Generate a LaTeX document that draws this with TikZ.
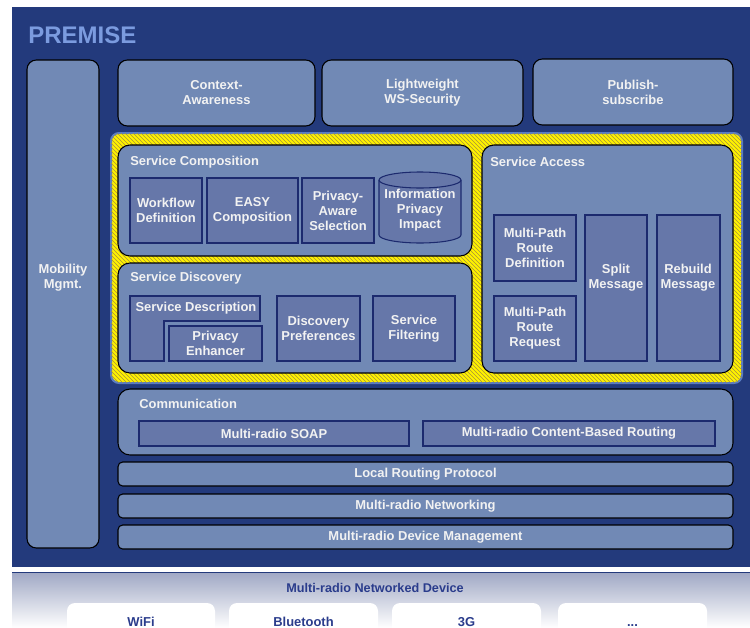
\documentclass[tikz,border=0pt]{standalone}
\usepackage{fontspec}
\setmainfont{Liberation Sans}
\usetikzlibrary{patterns}
\definecolor{premisebg}{HTML}{233A7C}
\definecolor{layerfill}{HTML}{7189B5}
\definecolor{modfill}{HTML}{6677A9}
\definecolor{modline}{HTML}{1C2A6E}
\definecolor{titleblue}{HTML}{7B9BDF}
\definecolor{hatchline}{HTML}{A8923A}
\definecolor{zoneline}{HTML}{5A7CC4}
\definecolor{devtext}{HTML}{2A3C8C}
\definecolor{devtop}{HTML}{A2AAC6}
\definecolor{labelwhite}{HTML}{F2F2F2}
\tikzset{
    x=0.75pt,
    y=-0.75pt,
    font=\fontsize{9.7}{11.25}\selectfont\bfseries,
    layer/.style={
        draw=black,
        line width=0.8pt,
        fill=layerfill,
        rounded corners=7pt,
        inner sep=0pt,
        text=labelwhite,
        align=center
    },
    group/.style={
        layer,
        rounded corners=9pt
    },
    bar/.style={
        layer,
        rounded corners=3.5pt
    },
    module/.style={
        draw=modline,
        line width=0.8pt,
        fill=modfill,
        inner sep=0pt,
        text=labelwhite,
        align=center
    },
    caption/.style={
        inner sep=0pt,
        text=labelwhite,
        align=center
    },
    grouptitle/.style={
        caption,
        anchor=west
    },
    hatchzone/.style={
        fill=yellow,
        draw=zoneline,
        line width=1.5pt,
        rounded corners=6pt,
        inner sep=0pt,
        postaction={pattern=north west lines, pattern color=hatchline}
    },
    radio/.style={
        fill=white,
        rounded corners=6pt,
        inner sep=0pt
    },
    radiotext/.style={
        text=devtext,
        anchor=base,
        inner sep=0pt
    }
}
% box from corner (x1,y1) to (x2,y2), in pixel units
\newcommand{\pbox}[7]{
    \pgfmathsetmacro{\pboxw}{0.75*(#5-#3)}
    \pgfmathsetmacro{\pboxh}{0.75*(#6-#4)}
    \node[#1, minimum width=\pboxw pt, minimum height=\pboxh pt] (#2) at ({(#3+#5)/2},{(#4+#6)/2}) {#7};
}

\begin{document}
\begin{tikzpicture}
\useasboundingbox (0,0) rectangle (750,628);

% --- Frame ---
\fill[premisebg] (12,7) rectangle (752,567);
\node[anchor=west, inner sep=0pt, text=titleblue, font=\fontsize{18}{20}\selectfont\bfseries] (premise) at (28,35) {PREMISE};

% --- Side and top blocks ---
\pbox{layer}{mobility}{27}{60}{99}{548}{}
\node[caption] (mobilityT) at (63,278) {Mobility\\Mgmt.};
\pbox{layer}{context}{118}{60}{315}{126}{Context-\\Awareness}
\pbox{layer}{wssec}{322}{60}{523}{126}{Lightweight\\WS-Security}
\pbox{layer}{pubsub}{533}{59}{733}{125}{Publish-\\subscribe}

% --- Hatched zone ---
\pbox{hatchzone}{zone}{111}{133}{742}{383}{}

% --- Service Composition ---
\pbox{group}{composition}{118}{145}{472}{256}{}
\node[grouptitle] (compositionT) at (130,162) {Service Composition};
\pbox{module}{workflow}{130}{178}{202}{243}{Workflow\\Definition}
\pbox{module}{easy}{207}{178}{298}{243}{EASY\\Composition}
\pbox{module}{selection}{302}{178}{374}{243}{Privacy-\\Aware\\Selection}
\draw[draw=modline, fill=modfill, line width=0.8pt] (379,180) -- (379,235)
    arc[start angle=180, end angle=360, x radius=30.75pt, y radius=6pt] -- (461,180)
    arc[start angle=0, end angle=180, x radius=30.75pt, y radius=6pt] -- cycle;
\draw[draw=modline, line width=0.8pt] (379,180) arc[start angle=180, end angle=360, x radius=30.75pt, y radius=6pt];
\node[caption] (impact) at (420,210) {Information\\Privacy\\Impact};

% --- Service Discovery ---
\pbox{group}{discovery}{118}{263}{472}{373}{}
\node[grouptitle] (discoveryT) at (130,278) {Service Discovery};
\draw[draw=modline, fill=modfill, line width=0.8pt] (130,296) -- (260,296) -- (260,321) -- (164,321) -- (164,361) -- (130,361) -- cycle;
\node[caption] (description) at (196,308) {Service Description};
\pbox{module}{enhancer}{169}{326}{262}{361}{Privacy\\Enhancer}
\pbox{module}{preferences}{277}{296}{360}{361}{Discovery\\Preferences}
\pbox{module}{filtering}{373}{296}{455}{361}{Service\\Filtering}

% --- Service Access ---
\pbox{group}{access}{482}{145}{733}{373}{}
\node[grouptitle] (accessT) at (490,162) {Service Access};
\pbox{module}{routedef}{494}{215}{576}{281}{Multi-Path\\Route\\Definition}
\pbox{module}{routereq}{494}{296}{576}{361}{Multi-Path\\Route\\Request}
\pbox{module}{split}{585}{215}{647}{361}{}
\node[caption] (splitT) at (616,278) {Split\\Message};
\pbox{module}{rebuild}{657}{215}{720}{361}{}
\node[caption] (rebuildT) at (688,278) {Rebuild\\Message};

% --- Communication and lower layers ---
\pbox{group}{communication}{118}{389}{733}{455}{}
\node[grouptitle] (communicationT) at (139,404) {Communication};
\pbox{module}{soap}{139}{421}{409}{446}{Multi-radio SOAP}
\pbox{module}{cbr}{423}{421}{715}{446}{Multi-radio Content-Based Routing}
\pbox{bar}{routing}{118}{462}{733}{486}{Local Routing Protocol}
\pbox{bar}{networking}{118}{494}{733}{518}{Multi-radio Networking}
\pbox{bar}{devmgmt}{118}{525}{733}{549}{Multi-radio Device Management}

% --- Device ---
\fill[premisebg] (12,572) rectangle (752,573.5);
\shade[top color=devtop, bottom color=white] (12,573.5) rectangle (752,628);
\node[text=devtext, inner sep=0pt, font=\fontsize{9.5}{11}\selectfont\bfseries] (device) at (375,588) {Multi-radio Networked Device};
\pbox{radio}{wifi}{67}{603}{215}{640}{}
\pbox{radio}{bluetooth}{229}{603}{378}{640}{}
\pbox{radio}{threeg}{392}{603}{541}{640}{}
\pbox{radio}{more}{558}{603}{707}{640}{}
\node[radiotext] (wifiT) at (141,626) {WiFi};
\node[radiotext] (bluetoothT) at (303.5,626) {Bluetooth};
\node[radiotext] (threegT) at (466.5,626) {3G};
\node[radiotext] (moreT) at (632.5,626) {...};

\end{tikzpicture}
\end{document}
